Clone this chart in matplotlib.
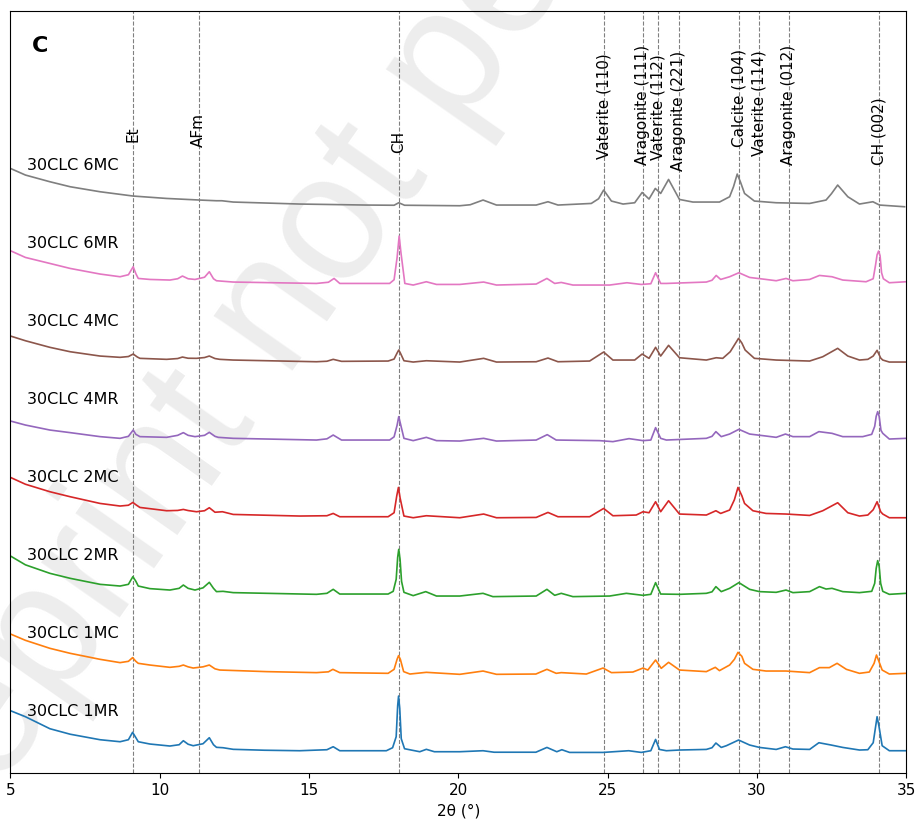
import matplotlib
matplotlib.use("Agg")
import matplotlib.pyplot as plt
import matplotlib.transforms as mtransforms

# XRD patterns: 2theta (deg) and intensity above each pattern's baseline (a.u.)
x_1mr = [5.0, 5.5, 6.32, 7.0, 8.0, 8.67, 8.95, 9.09, 9.2, 9.28, 9.67, 10.34, 10.65, 10.79, 10.95, 11.12,
         11.45, 11.66, 11.8, 11.9, 12.12, 12.46, 13.5, 14.69, 15.6, 15.81, 16.03, 17.59, 17.8, 17.92, 17.97,
         18.0, 18.04, 18.09, 18.2, 18.71, 18.93, 19.2, 20.05, 20.83, 21.2, 22.6, 22.97, 23.3, 23.47, 23.73,
         24.85, 25.71, 26.13, 26.45, 26.61, 26.74, 26.97, 27.41, 28.31, 28.5, 28.63, 28.81, 28.98, 29.39,
         29.76, 30.09, 30.65, 30.96, 31.21, 31.77, 32.08, 32.49, 32.88, 33.44, 33.72, 33.9, 33.97, 34.03,
         34.09, 34.2, 34.44, 35.0]
i_1mr = [40, 34, 22, 16.5, 11, 9, 11, 18.4, 13, 9, 6.7, 4.7, 6, 10, 6.5, 5,
         7, 13, 6, 3.4, 3, 1.4, 0.5, 0, 1, 4, 0, 0, 3, 14, 45,
         54.7, 42, 12, 2, -1, 1.4, -1, -1, 0, -1.5, -1.5, 3.3, -1, 1, -1.7,
         -1.7, 0, -1.7, 0, 11.3, 1.3, 0, 0.7, 1.3, 3, 7.7, 3.3, 5, 10.7,
         5.7, 3.3, 1.3, 4, 1.7, 1.3, 8, 5.7, 3.3, 0.7, 1, 8, 22, 34,
         25, 5, 0, 0]

x_1mc = [5.0, 5.5, 6.32, 7.0, 8.0, 8.67, 8.95, 9.09, 9.2, 9.28, 9.67, 10.34, 10.65, 10.79, 10.95, 11.12,
         11.45, 11.66, 11.85, 12.01, 13.58, 15.25, 15.65, 15.8, 16.03, 17.65, 17.85, 17.95, 18.0, 18.06,
         18.17, 18.38, 18.93, 20.05, 20.83, 21.28, 22.6, 22.97, 23.28, 23.45, 24.29, 24.85, 25.13, 25.85,
         26.19, 26.35, 26.61, 26.8, 27.045, 27.41, 28.31, 28.61, 28.75, 29.09, 29.25, 29.37, 29.5, 29.59,
         29.87, 30.31, 30.98, 31.77, 32.1, 32.43, 32.69, 33.0, 33.44, 33.77, 33.93, 34.01, 34.09, 34.2,
         34.44, 35.0]
i_1mc = [39.3, 33, 25, 20, 14, 10.7, 12, 15.7, 12, 10, 8.3, 6, 7, 8.3, 6.5, 5.3,
         6.5, 8.3, 4.5, 3.3, 1.7, 0.7, 1.5, 4, 0.7, 0, 4, 14, 17.7, 14,
         1.7, -0.7, 1, -1, 2.3, -1, -0.7, 4, 0, 0.7, -0.7, 5.3, 0.7, 1.3,
         5.3, 3.3, 13.3, 5, 11, 3.3, 1.7, 6, 2.7, 8.3, 14, 21, 17, 10,
         4, 2.3, 2.3, 0.7, 5.7, 5.7, 10, 4, 0, 1.3, 10, 18.3, 12, 3.3,
         -0.7, 0]

x_2mr = [5.0, 5.5, 6.32, 7.0, 8.0, 8.67, 8.95, 9.1, 9.2, 9.28, 9.67, 10.34, 10.65, 10.79, 10.95, 11.18,
         11.45, 11.66, 11.8, 11.9, 12.12, 12.46, 15.25, 15.6, 15.81, 16.03, 17.65, 17.82, 17.92, 17.97,
         18.006, 18.05, 18.1, 18.18, 18.49, 18.91, 19.27, 20.05, 20.83, 21.16, 22.61, 22.97, 23.23, 23.45,
         23.84, 25.07, 25.63, 26.19, 26.45, 26.61, 26.78, 27.41, 28.31, 28.5, 28.63, 28.81, 29.09, 29.4,
         29.76, 30.09, 30.65, 30.98, 31.21, 31.77, 32.1, 32.32, 32.52, 32.88, 33.44, 33.85, 33.95, 34.0,
         34.05, 34.1, 34.15, 34.22, 34.44, 35.0]
i_2mr = [37.3, 28.5, 20, 15, 9, 7.3, 9, 16.7, 12, 7.3, 4.7, 3.3, 5, 8.3, 5, 3.3,
         5.5, 11, 5, 1.7, 2, 0.7, -1, 0, 4, -0.7, -0.7, 2, 14, 36,
         44, 34, 12, 1, -2.3, 1.7, -2.7, -2.7, 0, -3.3, -2.7, 4, -2, 0,
         -3.3, -2.7, 0, -2, -1, 10.7, -0.7, -1, 0, 1.5, 6.7, 1.7, 5, 10.7,
         4, 1.7, 1, 3.3, 0.7, 1.7, 6.7, 4.3, 5, 1.7, 0.7, 2, 10, 25,
         32.7, 27, 10, 2, -1, 0]

x_2mc = [5.0, 5.5, 6.32, 7.0, 8.0, 8.67, 8.95, 9.1, 9.2, 9.335, 10.23, 10.6, 10.79, 10.95, 11.23, 11.5,
         11.66, 11.85, 12.1, 12.46, 14.69, 15.6, 15.81, 16.03, 17.65, 17.85, 17.94, 17.995, 18.05, 18.18,
         18.49, 18.93, 20.05, 20.85, 21.28, 22.61, 23.005, 23.34, 24.4, 24.87, 25.18, 25.96, 26.19, 26.39,
         26.61, 26.78, 27.045, 27.41, 28.31, 28.63, 28.79, 29.09, 29.25, 29.37, 29.5, 29.59, 29.87, 30.31,
         30.98, 31.77, 32.21, 32.71, 33.05, 33.44, 33.72, 33.9, 34.03, 34.15, 34.22, 34.44, 35.0]
i_2mc = [40.3, 33.5, 26, 21, 14.3, 11.7, 12.5, 15.3, 13, 10.3, 7, 7.3, 8.3, 7.2, 6, 7,
         10, 5.5, 6, 3.3, 1.7, 2, 4.3, 1, 1, 5, 22, 30.3, 20, 1.7,
         0, 2, 0, 3.7, 0, 0.3, 5.3, 1, 1, 9.3, 2, 2.7, 6, 5,
         16, 6, 17, 3.7, 2.7, 7, 4.3, 7.7, 18, 30.3, 22, 14.3, 7, 4.3,
         3.7, 2.3, 7, 15, 5, 1.7, 2.7, 8, 16, 6, 3.7, 0, 0]

x_4mr = [5.0, 5.5, 6.32, 7.0, 8.0, 8.67, 8.95, 9.11, 9.2, 9.335, 10.23, 10.6, 10.79, 10.95, 11.18, 11.5,
         11.66, 11.85, 11.96, 12.46, 15.25, 15.6, 15.81, 16.09, 17.7, 17.85, 17.95, 18.006, 18.06, 18.18,
         18.49, 18.93, 19.27, 20.05, 20.85, 21.28, 22.61, 22.98, 23.28, 24.73, 25.18, 25.72, 26.19, 26.45,
         26.61, 26.78, 26.97, 28.31, 28.5, 28.63, 28.81, 29.09, 29.4, 29.76, 30.31, 30.65, 30.96, 31.21,
         31.77, 32.08, 32.52, 32.88, 33.55, 33.85, 33.95, 34.0, 34.05, 34.1, 34.16, 34.22, 34.44, 35.0]
i_4mr = [17.3, 13.3, 8.3, 5.7, 1.7, 0, 2, 8.3, 4, 1.7, 1, 3, 5.7, 3, 1.7, 3,
         6, 2, 1, 0, -1.7, -0.5, 3.3, -1.7, -1.7, 1.5, 13, 21.7, 15, 0,
         -2.3, 1, -2.3, -2.7, 0, -2.7, -1.7, 3.7, -1.7, -2.3, -3.3, -0.3, -2.3, -1.7,
         10.7, 0, -1.7, 0, 2, 6.7, 1.7, 4.3, 9, 4.3, 2.3, 1, 4.3, 1.7,
         1.7, 6.7, 5, 1.7, 1.7, 4, 12, 22, 26.7, 22, 8, 5, -0.7, 0]

x_4mc = [5.0, 5.5, 6.32, 7.0, 8.0, 8.67, 8.95, 9.11, 9.25, 9.335, 10.23, 10.6, 10.76, 10.95, 11.23, 11.5,
         11.66, 11.85, 12.01, 12.46, 15.25, 15.6, 15.81, 16.09, 17.65, 17.85, 17.95, 18.006, 18.06, 18.18,
         18.49, 18.93, 20.05, 20.85, 21.28, 22.61, 23.005, 23.34, 24.4, 24.87, 25.18, 25.91, 26.16, 26.39,
         26.61, 26.78, 27.045, 27.41, 28.31, 28.64, 28.86, 29.11, 29.25, 29.39, 29.5, 29.61, 29.92, 30.65,
         31.77, 32.21, 32.71, 33.05, 33.44, 33.72, 33.9, 34.03, 34.15, 34.22, 34.44, 35.0]
i_4mc = [26, 21.3, 14.7, 10.3, 6, 4.7, 5.5, 8, 5, 3.7, 2.7, 3.5, 5, 3.8, 3.7, 4.5,
         6, 3.5, 2.7, 2, 0.3, 0.8, 2.7, 0.7, 1, 3, 9, 12, 9, 1.3,
         0, 1.3, 0, 3.7, 0, 0.3, 4, 0.3, 1, 10, 2, 2, 8, 3.7,
         14.7, 6, 16.7, 4.3, 2, 4.3, 3.7, 10.3, 17, 23.7, 19, 12, 3.7, 2,
         1, 5.3, 13.7, 6, 2, 2.7, 6, 11.7, 4, 2, 0, 0]

x_6mr = [5.0, 5.5, 6.32, 7.0, 8.0, 8.67, 8.95, 9.11, 9.2, 9.28, 9.67, 10.34, 10.6, 10.76, 10.95, 11.18,
         11.5, 11.66, 11.8, 11.9, 12.46, 15.25, 15.65, 15.84, 16.03, 17.7, 17.85, 17.95, 18.02, 18.08,
         18.21, 18.49, 18.93, 19.27, 20.05, 20.85, 21.28, 22.61, 22.97, 23.23, 23.45, 23.84, 25.07, 25.65,
         26.13, 26.45, 26.61, 26.78, 26.97, 28.31, 28.5, 28.64, 28.79, 29.09, 29.4, 29.76, 30.31, 30.65,
         30.98, 31.21, 31.77, 32.1, 32.52, 32.88, 33.66, 33.9, 33.98, 34.03, 34.08, 34.13, 34.18, 34.24,
         34.44, 35.0]
i_6mr = [32, 25.3, 19.3, 14.3, 8.7, 6, 8, 16, 9, 4.3, 3.3, 2.7, 4, 6.7, 4, 3.3,
         5.5, 11, 4, 2, 0.7, -0.7, 0.5, 4.3, -0.7, -0.7, 3, 25, 46.7, 30,
         -0.7, -2.3, 1, -1.7, -1.7, 0.7, -2.3, -1.3, 4.3, -0.7, 0.3, -2.3, -2.3, 0,
         -1.7, -1, 10, -0.7, -0.7, 0.7, 2.5, 7.3, 3.3, 6, 10, 5.3, 3.3, 2,
         4.3, 2, 3.3, 7.3, 6, 2.7, 1, 4, 18, 28, 31.7, 27, 10, 4,
         0, 1]

x_6mc = [5.0, 5.5, 6.32, 7.0, 8.0, 9.11, 10.23, 11.34, 11.9, 12.08, 12.46, 14.69, 16.9, 17.85, 18.006,
         18.2, 20.05, 20.4, 20.83, 21.28, 22.61, 23.005, 23.34, 24.456, 24.7, 24.87, 25.13, 25.52, 25.91,
         26.16, 26.39, 26.6, 26.78, 27.045, 27.41, 27.86, 28.75, 29.09, 29.22, 29.345, 29.45, 29.59, 29.92,
         30.65, 31.77, 32.32, 32.5, 32.71, 33.05, 33.44, 33.89, 34.11, 34.95]
i_6mc = [38.3, 31.7, 25, 20, 15, 10.7, 8.3, 6.7, 6, 6, 4.7, 2.7, 1.7, 1.5, 4,
         1.5, 1, 2, 6.7, 1.7, 1.7, 5, 1.7, 3.3, 8, 16.7, 5.7, 2.7, 4,
         14.3, 7.7, 18.3, 13.3, 27.3, 7.3, 4.7, 4.7, 10, 20, 32.7, 25, 13.3, 5.7,
         4, 3.3, 6.7, 13, 21.7, 10, 2.7, 5, 1.7, 0]

samples = ["30CLC 1MR", "30CLC 1MC", "30CLC 2MR", "30CLC 2MC",
           "30CLC 4MR", "30CLC 4MC", "30CLC 6MR", "30CLC 6MC"]
patterns_x = [x_1mr, x_1mc, x_2mr, x_2mc, x_4mr, x_4mc, x_6mr, x_6mc]
patterns_i = [i_1mr, i_1mc, i_2mr, i_2mc, i_4mr, i_4mc, i_6mr, i_6mc]
offsets = [0, 77.4, 157.4, 233, 312.4, 388.7, 468, 544]

# reference peak positions
peak_pos = [9.1, 11.3, 18.0, 24.88, 26.18, 26.7, 27.39, 29.4, 30.08, 31.07, 34.09]
peak_names = ["Et", "AFm", "CH", "Vaterite (110)", "Aragonite (111)", "Vaterite (112)",
              "Aragonite (221)", "Calcite (104)", "Vaterite (114)", "Aragonite (012)", "CH (002)"]
label_bottom = [0.828, 0.8215, 0.8136, 0.806, 0.798, 0.8045, 0.7895, 0.8215, 0.8097, 0.7979, 0.7979]

fig = plt.figure(figsize=(9.17, 8.25), dpi=100)
ax = fig.add_axes([0.01145, 0.0630, 0.9766, 0.9236])

# watermark
ax.text(0.505, 0.945, "Preprint not peer reviewed", transform=fig.transFigure,
        rotation=55, ha="center", va="center", fontsize=130, color="#ededed",
        family="Liberation Sans", zorder=0.5, clip_on=False)

for k in range(len(samples)):
    y = [v + offsets[k] for v in patterns_i[k]]
    ax.plot(patterns_x[k], y, color="C%d" % k, lw=1.2, zorder=2)
    ax.text(5.55, k * 78 + 39.7, samples[k], fontsize=11.5, ha="left", va="center")

trans = mtransforms.blended_transform_factory(ax.transData, ax.transAxes)
for p, name, yb in zip(peak_pos, peak_names, label_bottom):
    ax.axvline(p, color="gray", ls="--", lw=0.8, zorder=1)
    ax.text(p, yb, name, transform=trans, rotation=90, ha="center", va="bottom", fontsize=11)

ax.text(0.033, 0.954, "C", transform=ax.transAxes, fontsize=16, fontweight="bold",
        ha="center", va="center")

ax.set_xlim(5, 35)
ax.set_ylim(-22.3, 739.7)
ax.set_yticks([])
ax.set_xticks([5, 10, 15, 20, 25, 30, 35])
ax.tick_params(axis="x", labelsize=11)
ax.set_xlabel("2θ (°)", fontsize=11)

fig.savefig("out.png", dpi=100)
